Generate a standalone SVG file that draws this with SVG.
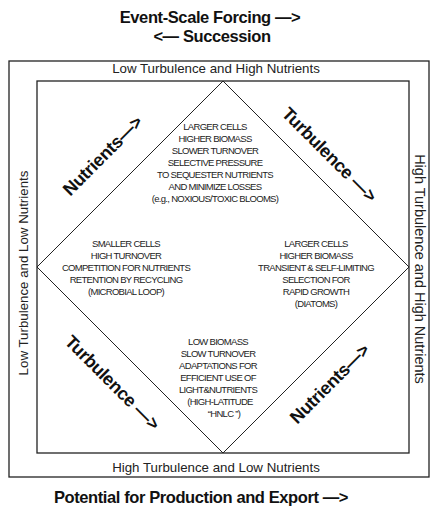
<svg xmlns="http://www.w3.org/2000/svg" width="430" height="516" viewBox="0 0 430 516">
<style>
  .title { font-family: "Liberation Sans", Arial, sans-serif; font-weight: bold; font-size: 16.5px; letter-spacing: -0.4px; fill: #111; text-anchor: middle; }
  .side { font-family: "Liberation Sans", Arial, sans-serif; font-size: 13.3px; fill: #222; text-anchor: middle; }
  .side-big { font-family: "Liberation Sans", Arial, sans-serif; font-size: 14.5px; fill: #222; text-anchor: middle; }
  .diag { font-family: "Liberation Sans", Arial, sans-serif; font-weight: bold; font-size: 18px; fill: #111; text-anchor: middle; letter-spacing: -0.3px; }
  .body { font-family: "Liberation Sans", Arial, sans-serif; font-size: 9.5px; fill: #222; text-anchor: middle; letter-spacing: -0.7px; }
  .box { fill: none; stroke: #222; }
</style>
<rect width="430" height="516" fill="#ffffff"/>

<g id="titles">
  <text class="title" x="210" y="23">Event-Scale Forcing —&gt;</text>
  <text class="title" x="212" y="42">&lt;— Succession</text>
  <text class="title" x="201" y="503">Potential for Production and Export —&gt;</text>
</g>

<g id="outer-frame">
  <rect class="box" x="9" y="61" width="420" height="416" stroke-width="1.3"/>
  <text class="side" x="216" y="73">Low Turbulence and High Nutrients</text>
  <text class="side" x="216" y="471.5">High Turbulence and Low Nutrients</text>
  <text class="side" transform="translate(28,273) rotate(-90)">Low Turbulence and Low Nutrients</text>
  <text class="side-big" transform="translate(415,269) rotate(90)">High Turbulence and High Nutrients</text>
</g>

<g id="inner-frame">
  <rect class="box" x="37" y="81" width="372" height="372" stroke-width="1.3"/>
</g>

<g id="connectors">
  <polygon class="box" points="223,81 409,267 223,453 37,267" stroke-width="1"/>
</g>

<g id="axis-labels">
  <text class="diag" transform="translate(107,160) rotate(-45)">Nutrients—&gt;</text>
  <text class="diag" transform="translate(325,159) rotate(45)">Turbulence —&gt;</text>
  <text class="diag" transform="translate(108,387) rotate(45)">Turbulence —&gt;</text>
  <text class="diag" transform="translate(334,388) rotate(-45)">Nutrients—&gt;</text>
</g>

<g id="node-top">
  <text class="body" x="215" y="129.5">LARGER CELLS</text>
  <text class="body" x="215" y="141.5">HIGHER BIOMASS</text>
  <text class="body" x="215" y="153.5">SLOWER TURNOVER</text>
  <text class="body" x="215" y="165.5">SELECTIVE PRESSURE</text>
  <text class="body" x="215" y="177.5">TO SEQUESTER NUTRIENTS</text>
  <text class="body" x="215" y="189.5">AND MINIMIZE LOSSES</text>
  <text class="body" x="215" y="201.5">(e.g., NOXIOUS/TOXIC BLOOMS)</text>
</g>

<g id="node-left">
  <text class="body" x="126" y="246.5">SMALLER CELLS</text>
  <text class="body" x="126" y="258.5">HIGH TURNOVER</text>
  <text class="body" x="126" y="270.5">COMPETITION FOR NUTRIENTS</text>
  <text class="body" x="126" y="282.5">RETENTION BY RECYCLING</text>
  <text class="body" x="126" y="294.5">(MICROBIAL LOOP)</text>
</g>

<g id="node-right">
  <text class="body" x="316" y="246.5">LARGER CELLS</text>
  <text class="body" x="316" y="258.5">HIGHER BIOMASS</text>
  <text class="body" x="316" y="270.5">TRANSIENT &amp; SELF-LIMITING</text>
  <text class="body" x="316" y="282.5">SELECTION FOR</text>
  <text class="body" x="316" y="294.5">RAPID GROWTH</text>
  <text class="body" x="316" y="306.5">(DIATOMS)</text>
</g>

<g id="node-bottom">
  <text class="body" x="218" y="345">LOW BIOMASS</text>
  <text class="body" x="218" y="357">SLOW TURNOVER</text>
  <text class="body" x="218" y="369">ADAPTATIONS FOR</text>
  <text class="body" x="218" y="380.5">EFFICIENT USE OF</text>
  <text class="body" x="218" y="392.5">LIGHT&amp;NUTRIENTS</text>
  <text class="body" x="220" y="404.5">(HIGH-LATITUDE</text>
  <text class="body" x="224" y="416.5">“HNLC ”)</text>
</g>
</svg>
